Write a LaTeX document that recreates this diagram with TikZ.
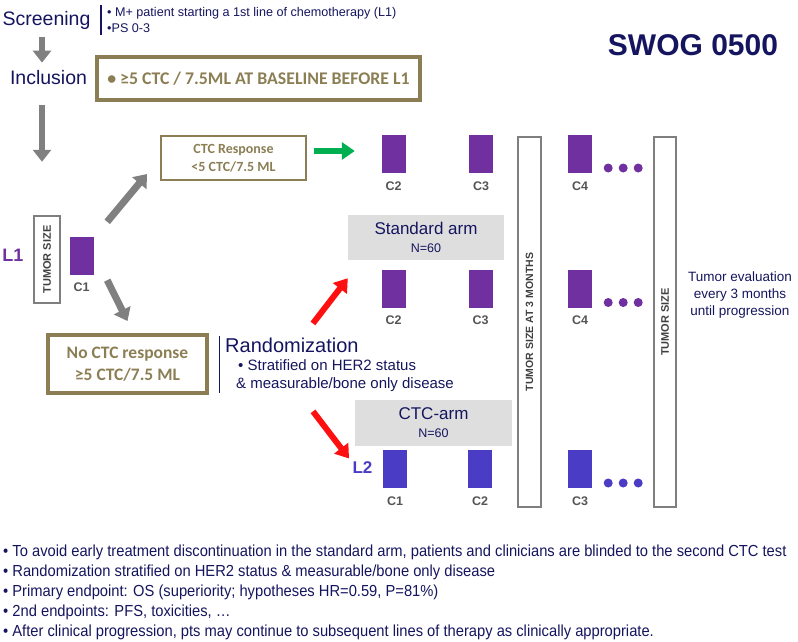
\documentclass[tikz,border=0pt]{standalone}
\usepackage{fontspec}
\setmainfont{Liberation Sans}
\newfontfamily\calfont{Carlito}
\newfontfamily\narrowfont{Liberation Sans}[FakeStretch=0.92]
\usetikzlibrary{arrows.meta,positioning}
\definecolor{navy}{HTML}{15155F}
\definecolor{boxolive}{HTML}{8C7E54}
\definecolor{armgray}{HTML}{DEDEDE}
\definecolor{sizegray}{HTML}{7F7F7F}
\definecolor{arrowgray}{HTML}{808080}
\definecolor{armpurple}{HTML}{7030A0}
\definecolor{armblue}{HTML}{4B3CC5}
\definecolor{arrowgreen}{HTML}{00B050}
\definecolor{arrowred}{HTML}{FF1010}
\definecolor{cgray}{HTML}{555555}
\definecolor{sizetext}{HTML}{404040}
\newcommand\fsz[2]{\fontsize{#1}{#2}\selectfont}

\begin{document}
\begin{tikzpicture}[
  x=1pt, y=-1pt,
  lbl/.style={text=navy, inner sep=0pt},
  olivebox/.style={draw=boxolive, line width=3.5pt, text=boxolive, align=center, inner sep=0pt},
  armbox/.style={fill=armgray, text=navy, align=center, inner sep=0pt},
  cyc/.style={minimum width=24pt, minimum height=38pt, inner sep=0pt},
  cname/.style={font=\bfseries\fsz{12.5}{12.5}, text=cgray, inner sep=0pt},
  sizebox/.style={draw=sizegray, line width=2.5pt, rotate=90, inner sep=0pt, text=sizetext, font=\bfseries\fsz{10.5}{10.5}},
  garrow/.style={-{Triangle[width=18pt,length=12pt]}, line width=6.5pt, arrowgray},
  grarrow/.style={-{Triangle[width=17pt,length=13pt]}, line width=6pt, arrowgreen},
  rarrow/.style={-{Triangle[width=17pt,length=13pt]}, line width=6pt, arrowred}
]
\useasboundingbox (0,0) rectangle (798,642);

% screening / inclusion
\node[lbl, font=\fsz{19.5}{20}] (screen) at (46.5,20) {Screening};
\node[lbl, anchor=west, align=left, inner xsep=6pt, inner ysep=2pt, font=\fsz{12.6}{16}] (scrnote) at (101,20) {• M+ patient starting a 1st line of chemotherapy (L1)\\•PS 0-3};
\draw[navy, line width=1.2pt] (scrnote.north west) -- (scrnote.south west);
\node[font=\bfseries\fsz{30}{32}, text=navy] (swog) at (693,45) {SWOG 0500};
\node[lbl, font=\fsz{19.5}{20}] (incl) at (48.5,78) {Inclusion};
\node[olivebox, minimum width=323pt, minimum height=43pt, font=\calfont\bfseries\fsz{17.8}{18}] (crit) at (258.5,78.5) {• ≥5 CTC / 7.5ML AT BASELINE BEFORE L1};
\draw[garrow, shorten <=8pt, shorten >=8pt] ([xshift=-4.5pt]screen.south) -- ([xshift=-6.5pt]incl.north);

% first line
\node[font=\bfseries\fsz{18}{18}, text=armpurple, inner sep=0pt] (l1) at (13,255) {L1};
\node[sizebox, minimum width=87pt, minimum height=26pt, font=\bfseries\fsz{11}{11}] (tsize1) at (47,259.5) {TUMOR SIZE};
\node[cyc, fill=armpurple] (c1) at (81.5,255.5) {};
\node[cname, below=8pt of c1] (c1lbl) {C1};
\draw[garrow, shorten <=20pt, shorten >=53pt] ([xshift=-6.5pt]incl.south) -- ([xshift=-5pt]tsize1.east);

% CTC response
\node[olivebox, line width=2pt, minimum width=145pt, minimum height=44pt, font=\calfont\bfseries\fsz{14}{18}] (resp) at (233.5,158) {CTC Response\\<5 CTC/7.5 ML};
\node[olivebox, line width=4pt, minimum width=159pt, minimum height=58pt, font=\calfont\bfseries\fsz{17.5}{22}] (nores) at (127.5,364) {No CTC response\\≥5 CTC/7.5 ML};
\draw[garrow, line width=7pt] ([shift={(13.5,-14.5)}]c1.north east) -- ([shift={(-13,-7)}]resp.south west);
\draw[garrow, line width=7pt] ([shift={(13.5,5.5)}]c1.south east) -- ([shift={(0,-12)}]nores.north);

% randomization
\node[lbl, anchor=west, font=\fsz{20}{20}] (randtitle) at (225,345) {Randomization};
\node[lbl, anchor=north west, align=left, font=\fsz{15}{18}] (randnote) at (236,359) {\hspace{2pt}• Stratified on HER2 status\\\& measurable/bone only disease};
\draw[navy, line width=1pt] (219,336) -- (219,393);

% arms
\node[armbox, minimum width=156pt, minimum height=45pt] (std) at (426,237.5) {{\fsz{17}{17}Standard arm}\\[6pt]{\fsz{12.5}{12.5}N=60}};
\node[armbox, minimum width=157pt, minimum height=46pt] (ctcarm) at (433.5,423) {{\fsz{17}{17}CTC-arm}\\[6pt]{\fsz{12.5}{12.5}N=60}};
\node[font=\bfseries\fsz{17}{17}, text=armblue] (l2) at (362.5,468) {L2};
\draw[rarrow] ([shift={(21,-14)}]randtitle.north) -- ([shift={(0,18)}]std.south west);
\draw[rarrow] ([shift={(-32,20)}]randnote.south) -- (l2.north west);

% cycles, responders
\node[cyc, fill=armpurple] (r2a) at (393.5,154) {};
\node[cyc, fill=armpurple] (r3a) at (481,154) {};
\node[cyc, fill=armpurple] (r4a) at (580,154) {};
\node[cname, below=8pt of r2a] {C2};
\node[cname, below=8pt of r3a] {C3};
\node[cname, below=8pt of r4a] {C4};
\draw[grarrow] ([shift={(7,-7)}]resp.east) -- ([shift={(-26.5,-3)}]r2a.west);

% cycles, standard arm
\node[cyc, fill=armpurple] (r2b) at (393.5,288.5) {};
\node[cyc, fill=armpurple] (r3b) at (480.5,288.5) {};
\node[cyc, fill=armpurple] (r4b) at (580,288.5) {};
\node[cname, below=8pt of r2b] {C2};
\node[cname, below=8pt of r3b] {C3};
\node[cname, below=8pt of r4b] {C4};

% cycles, CTC arm
\node[cyc, fill=armblue] (r1c) at (395,469) {};
\node[cyc, fill=armblue] (r2c) at (480,469) {};
\node[cyc, fill=armblue] (r3c) at (580,469) {};
\node[cname, below=8pt of r1c] {C1};
\node[cname, below=8pt of r2c] {C2};
\node[cname, below=8pt of r3c] {C3};

\foreach \d in {0,1,2} {
  \fill[armpurple] ([shift={(16+15*\d,14)}]r4a.east) circle (4.5pt);
  \fill[armpurple] ([shift={(16+15*\d,14)}]r4b.east) circle (4.5pt);
  \fill[armblue] ([shift={(16+15*\d,14)}]r3c.east) circle (4.5pt);
}

% tumor size
\node[sizebox, minimum width=370pt, minimum height=23pt] (ts3m) at (529.5,322) {TUMOR SIZE AT 3 MONTHS};
\node[sizebox, minimum width=370pt, minimum height=22pt, font=\bfseries\fsz{11}{11}] (tsend) at (665,322) {TUMOR SIZE};
\node[lbl, align=center, font=\fsz{13.5}{17}] (evalnote) at (740,295) {Tumor evaluation\\every 3 months\\until progression};

% notes
\node[lbl, anchor=north west, align=left, font=\narrowfont\fsz{16}{20}] (notes) at (3,545) {• To avoid early treatment discontinuation in the standard arm, patients and clinicians are blinded to the second CTC test\\• Randomization stratified on HER2 status \& measurable/bone only disease\\• Primary endpoint: OS (superiority; hypotheses HR=0.59, P=81\%)\\• 2nd endpoints: PFS, toxicities, …\\• After clinical progression, pts may continue to subsequent lines of therapy as clinically appropriate.};
\end{tikzpicture}
\end{document}
